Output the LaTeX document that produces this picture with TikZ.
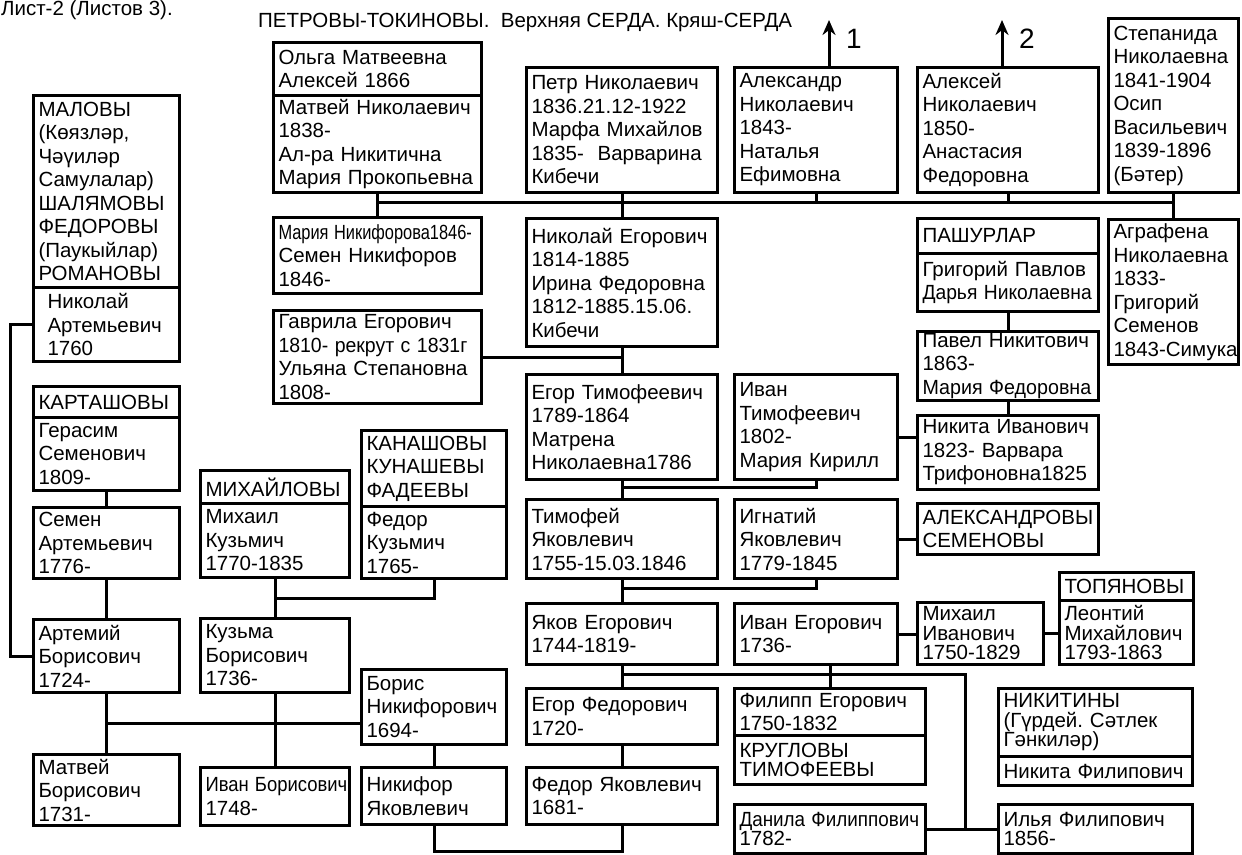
\documentclass[tikz,border=0pt]{standalone}
\usepackage{fontspec}
\setmainfont{Liberation Sans}
\usetikzlibrary{arrows.meta}
\newcommand{\famfont}{\fontsize{20.5}{23.5}\selectfont}
\newcommand{\famtight}{\fontsize{20.5}{19.5}\selectfont}
\newcommand{\narrowtext}[2]{\scalebox{#1}[1]{#2}}
\hyphenpenalty=10000
\exhyphenpenalty=10000
\frenchspacing
\tikzset{famBox/.style 2 args={draw, line width=3pt, anchor=north west, inner xsep=5pt, inner ysep=1pt, minimum width=#1pt, minimum height=#2pt, text width=#1pt-10pt, align=left, font=\famfont}}
\tikzstyle{plainText}=[anchor=base west, inner sep=0pt, font=\famfont]

\begin{document}
\begin{tikzpicture}[x=1pt, y=-1pt]
\tikzstyle{famLine}=[line width=3pt]
\tikzstyle{upArrow}=[line width=3pt, -{Stealth[length=15pt, width=13pt]}]
\path[use as bounding box, fill=white] (0,0) rectangle (1242,854);
\node[plainText] (sheet) at (1,15) {Лист-2 (Листов 3).};
\node[plainText] (title) at (258,27) {ПЕТРОВЫ-ТОКИНОВЫ.\ \ Верхняя СЕРДА. Кряш-СЕРДА};
\node[famBox={146}{192}] (malovyHead) at (32,94) {МАЛОВЫ\\(Көязләр,\\Чәүиләр\\Самулалар)\\ШАЛЯМОВЫ\\ФЕДОРОВЫ\\(Паукыйлар)\\РОМАНОВЫ};
\node[famBox={146}{74}] (nikolayA) at (32,286) {\hspace*{9pt}Николай\\\hspace*{9pt}Артемьевич\\\hspace*{9pt}1760};
\node[famBox={146}{31}] (kartHead) at (32,385) {КАРТАШОВЫ};
\node[famBox={146}{73}] (gerasim) at (32,416) {Герасим\\Семенович\\1809-};
\node[famBox={146}{71}] (semen) at (32,506) {Семен\\Артемьевич\\1776-};
\node[famBox={146}{73}] (artemiy) at (32,618) {Артемий\\Борисович\\1724-};
\node[famBox={146}{71}] (matveyB) at (32,753) {Матвей\\Борисович\\1731-};
\node[famBox={149}{33}] (mikhHead) at (199,469) {МИХАЙЛОВЫ};
\node[famBox={149}{74}] (mikhail) at (199,502) {Михаил\\Кузьмич\\1770-1835};
\node[famBox={149}{74}] (kuzma) at (199,617) {Кузьма\\Борисович\\1736-};
\node[famBox={149}{58}] (ivanB) at (199,766) {\narrowtext{0.9}{Иван Борисович}\\1748-};
\node[famBox={145}{76}] (kanHead) at (360,429) {КАНАШОВЫ\\КУНАШЕВЫ\\ФАДЕЕВЫ};
\node[famBox={145}{72}] (fedorK) at (360,505) {Федор\\Кузьмич\\1765-};
\node[famBox={145}{75}] (boris) at (360,668) {Борис\\Никифорович\\1694-};
\node[famBox={145}{57}] (nikifor) at (360,766) {Никифор\\Яковлевич};
\node[famBox={208}{53}] (olgaHead) at (272,41) {Ольга Матвеевна\\Алексей 1866};
\node[famBox={208}{97}] (matvey) at (272,94) {Матвей Николаевич\\1838-\\Ал-ра Никитична\\Мария Прокопьевна};
\node[famBox={208}{76}] (mariyaN) at (272,216) {\narrowtext{0.8}{Мария Никифорова1846-}\\Семен Никифоров\\1846-};
\node[famBox={208}{93}] (gavrila) at (272,309) {Гаврила Егорович\\\narrowtext{0.95}{1810- рекрут с 1831г}\\Ульяна Степановна\\1808-};
\node[famBox={191}{125}] (petr) at (525,66) {Петр Николаевич\\1836.21.12-1922\\Марфа Михайлов\\1835-~~Варварина\\Кибечи};
\node[famBox={191}{128}] (nikolay) at (525,217) {Николай Егорович\\1814-1885\\Ирина Федоровна\\1812-1885.15.06.\\Кибечи};
\node[famBox={191}{105}] (egorT) at (525,373) {Егор Тимофеевич\\1789-1864\\Матрена\\Николаевна1786};
\node[famBox={191}{79}] (timofey) at (525,498) {Тимофей\\Яковлевич\\1755-15.03.1846};
\node[famBox={191}{61}] (yakov) at (525,602) {Яков Егорович\\1744-1819-};
\node[famBox={191}{56}] (egorF) at (525,687) {Егор Федорович\\1720-};
\node[famBox={191}{57}] (fedorY) at (525,766) {Федор Яковлевич\\1681-};
\node[famBox={163}{125}] (aleksandr) at (733,66) {Александр\\Николаевич\\1843-\\Наталья\\Ефимовна};
\node[famBox={163}{105}] (ivanT) at (733,373) {Иван\\Тимофеевич\\1802-\\Мария Кирилл};
\node[famBox={163}{79}] (ignatiy) at (733,498) {Игнатий\\Яковлевич\\1779-1845};
\node[famBox={163}{61}] (ivanE) at (733,602) {Иван Егорович\\1736-};
\node[famBox={191}{47}] (filipp) at (733,687) {Филипп Егорович\\1750-1832};
\node[famBox={191}{49}, font=\famtight] (kruglovy) at (733,734) {КРУГЛОВЫ\\ТИМОФЕЕВЫ};
\node[famBox={191}{49}, font=\famtight] (danila) at (733,803) {\narrowtext{0.92}{Данила Филиппович}\\1782-};
\node[famBox={181}{125}] (aleksey) at (916,66) {Алексей\\Николаевич\\1850-\\Анастасия\\Федоровна};
\node[famBox={181}{35}] (pashHead) at (916,217) {ПАШУРЛАР};
\node[famBox={181}{58}] (grigoriy) at (916,252) {Григорий Павлов\\\narrowtext{0.94}{Дарья Николаевна}};
\node[famBox={181}{69}] (pavel) at (916,330) {Павел Никитович\\1863-\\\narrowtext{0.96}{Мария Федоровна}};
\node[famBox={181}{74}] (nikita) at (916,414) {Никита Иванович\\1823- Варвара\\Трифоновна1825};
\node[famBox={181}{51}] (alexandrovy) at (916,502) {АЛЕКСАНДРОВЫ\\СЕМЕНОВЫ};
\node[famBox={126}{62}, font=\famtight] (mikhailI) at (916,601) {Михаил\\Иванович\\1750-1829};
\node[famBox={134}{28}] (topHead) at (1058,571) {ТОПЯНОВЫ};
\node[famBox={134}{64}, font=\famtight] (leontiy) at (1058,599) {Леонтий\\Михайлович\\1793-1863};
\node[famBox={194}{68}, font=\famtight] (nikitinyHead) at (997,687) {НИКИТИНЫ\\(Гүрдей. Сәтлек\\Гәнкиләр)};
\node[famBox={194}{29}] (nikitaF) at (997,755) {Никита Филипович};
\node[famBox={194}{49}, font=\famtight] (ilya) at (997,803) {Илья Филипович\\1856-};
\node[famBox={130}{174}] (stepanida) at (1107,17) {Степанида\\Николаевна\\1841-1904\\Осип\\Васильевич\\1839-1896\\(Бәтер)};
\node[famBox={130}{145}] (agrafena) at (1107,218) {Аграфена\\Николаевна\\1833-\\Григорий\\Семенов\\1843-Симука};
\coordinate (up1) at (829,20);
\coordinate (up2) at (1002,20);
\node[anchor=base west, inner sep=0pt, font=\fontsize{28}{30}\selectfont] (lblOne) at (846,48) {1};
\node[anchor=base west, inner sep=0pt, font=\fontsize{28}{30}\selectfont] (lblTwo) at (1019,48) {2};
\draw[upArrow] (aleksandr.north -| up1) -- (up1);
\draw[upArrow] (aleksey.north -| up2) -- (up2);
\coordinate (barTop) at (0,202);
\coordinate (barEgor) at (0,487);
\coordinate (barTim) at (0,588);
\coordinate (forkX) at (965,674);
\coordinate (barBot) at (0,851);
\coordinate (barBor) at (0,723);
\coordinate (barMikh) at (0,598);
\coordinate (leftX) at (10,0);
\draw[famLine] (matvey.south) -- (mariyaN.north);
\draw[famLine] (petr.south) -- (nikolay.north);
\draw[famLine] (matvey.south |- barTop) -- (stepanida.south |- barTop);
\draw[famLine] (aleksandr.south) -- (aleksandr.south |- barTop);
\draw[famLine] (aleksey.south) -- (aleksey.south |- barTop);
\draw[famLine] (stepanida.south) -- (agrafena.north);
\draw[famLine] (gavrila.east) -- (gavrila.east -| nikolay.south);
\draw[famLine] (nikolay.south) -- (egorT.north);
\draw[famLine] (egorT.south) -- (timofey.north);
\draw[famLine] (egorT.south |- barEgor) -- (ivanT.south |- barEgor) -- (ivanT.south);
\draw[famLine] (timofey.south) -- (yakov.north);
\draw[famLine] (timofey.south |- barTim) -- (ignatiy.south |- barTim) -- (ignatiy.south);
\draw[famLine] (yakov.south) -- (egorF.north);
\draw[famLine] (yakov.south |- forkX) -- (forkX) -- (forkX |- danila.east);
\draw[famLine] (ivanE.south -| filipp.north) -- (filipp.north);
\draw[famLine] (danila.east) -- (ilya.west);
\draw[famLine] (egorF.south) -- (fedorY.north);
\draw[famLine] (fedorY.south) -- (fedorY.south |- barBot) -- (nikifor.south |- barBot) -- (nikifor.south);
\draw[famLine] (boris.south) -- (nikifor.north);
\draw[famLine] (boris.west |- barBor) -- (artemiy.south |- barBor);
\draw[famLine] (artemiy.south) -- (matveyB.north);
\draw[famLine] (kuzma.south) -- (ivanB.north);
\draw[famLine] (mikhail.south) -- (kuzma.north);
\draw[famLine] (mikhail.south |- barMikh) -- (fedorK.south |- barMikh) -- (fedorK.south);
\draw[famLine] (gerasim.south) -- (semen.north);
\draw[famLine] (semen.south) -- (artemiy.north);
\draw[famLine] (nikolayA.west) -- (nikolayA.west -| leftX) -- (artemiy.west -| leftX) -- (artemiy.west);
\draw[famLine] (grigoriy.south) -- (pavel.north);
\draw[famLine] (pavel.south) -- (nikita.north);
\draw[famLine] ([yshift=-10pt]ivanT.east) -- ([yshift=-10pt]ivanT.east -| nikita.west);
\draw[famLine] (ignatiy.east) -- (ignatiy.east -| alexandrovy.west);
\draw[famLine] (ivanE.east) -- (ivanE.east -| mikhailI.west);
\draw[famLine] (mikhailI.east) -- (mikhailI.east -| leontiy.west);
\end{tikzpicture}
\end{document}
